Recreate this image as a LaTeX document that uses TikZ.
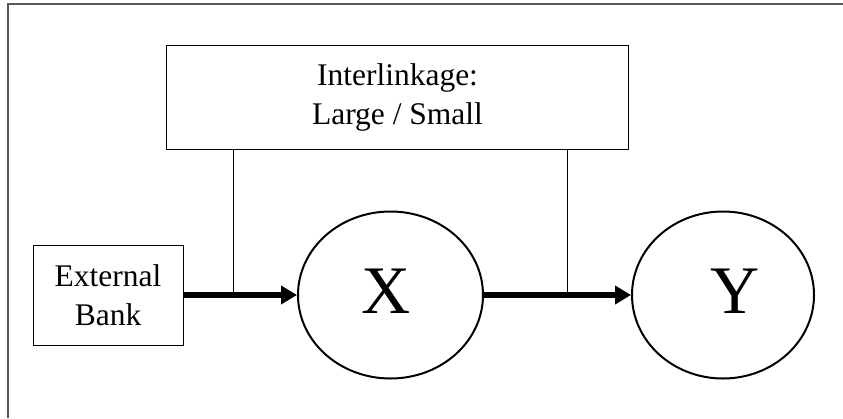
\documentclass[tikz,border=0pt]{standalone}
\usepackage{fontspec}
\setmainfont{Liberation Serif}
\usetikzlibrary{arrows.meta,shapes.geometric}
\begin{document}
\begin{tikzpicture}[x=1pt,y=-1pt,
  box/.style={draw,line width=1pt,inner sep=0pt,align=center,
    font=\fontsize{31.5}{39}\selectfont},
  oval/.style={draw,ellipse,line width=2pt,inner sep=0pt,minimum height=167pt},
  thickarrow/.style={line width=6pt,-{Triangle[length=16pt,width=18pt]}},
  thinline/.style={line width=1pt},
  big/.style={font=\fontsize{68}{68}\selectfont}]
\useasboundingbox (0,0) rectangle (843,418);
\draw[line width=2pt,draw=black!65] (8,418) -- (8,4) -- (843,4);
\node[box,minimum width=462pt,minimum height=104pt] (top) at (397.5,97) {Interlinkage:\\Large / Small};
\node[box,minimum width=150pt,minimum height=100pt] (ext) at (108,295) {External\\Bank};
\node[oval,minimum width=185pt,label={[big,xshift=-4pt,yshift=3.5pt]center:X}] (X) at (390.5,295) {};
\node[oval,minimum width=182pt,label={[big,xshift=12pt,yshift=3.5pt]center:Y}] (Y) at (723,295) {};
\draw[thickarrow] (ext.east) -- (X.west);
\draw[thickarrow] (X.east) -- (Y.west);
\coordinate (j1) at (233,295);
\coordinate (j2) at (567,295);
\draw[thinline] (j1 |- top.south) -- (j1);
\draw[thinline] (j2 |- top.south) -- (j2);
\end{tikzpicture}
\end{document}
